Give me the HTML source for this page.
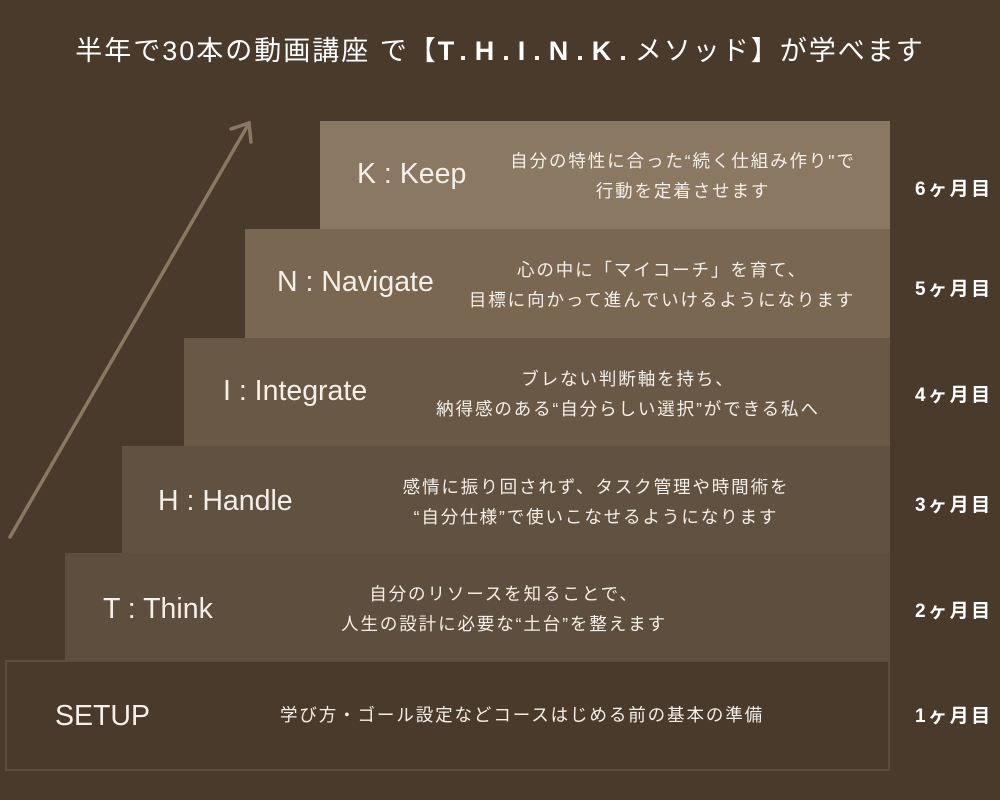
<!DOCTYPE html>
<html><head><meta charset="utf-8"><style>
body{margin:0;width:1000px;height:800px;background:#4a3a2c;position:relative;overflow:hidden;font-family:"Liberation Sans","Noto Sans CJK JP",sans-serif;color:#fff}
.b{position:absolute;right:110px;box-sizing:border-box}
.l{position:absolute;font-size:28.5px;color:#f4efe8;white-space:nowrap}
.d{position:absolute;font-size:17.5px;letter-spacing:1.9px;line-height:30px;text-align:center;color:#f4efe8;white-space:nowrap;transform:translateX(-50%)}
.m{position:absolute;left:915px;font-size:19px;font-weight:bold;letter-spacing:2.5px;white-space:nowrap}
.t{position:absolute;top:29px;left:0;width:1000px;text-align:center;font-size:27px;white-space:nowrap;letter-spacing:2px}
.t b{font-weight:bold;letter-spacing:8px}
</style></head><body>
<div class="t">半年で30本の動画講座 で【<b>T.H.I.N.K.</b>メソッド】が学べます</div>
<div class="b" style="left:320px;top:121px;height:109px;background:#8a7863"></div>
<div class="b" style="left:245px;top:229px;height:110px;background:#7a6752"></div>
<div class="b" style="left:184px;top:338px;height:109px;background:#6a5846"></div>
<div class="b" style="left:122px;top:446px;height:108px;background:#615140"></div>
<div class="b" style="left:65px;top:553px;height:108px;background:#5d4e3d"></div>
<div class="b" style="left:5px;top:660px;height:111px;background:#4a3a2c;border:2px solid #5c4c3c"></div>
<svg width="1000" height="800" style="position:absolute;left:0;top:0">
<g stroke="#8a7863" stroke-width="3.5" fill="none" stroke-linecap="round">
<line x1="10" y1="537" x2="248" y2="125"/>
<polyline points="231,129 249,123 251,142"/>
</g></svg>
<div class="l" style="left:357px;top:158px">K : Keep</div>
<div class="l" style="left:277px;top:266px">N : Navigate</div>
<div class="l" style="left:223px;top:375px">I : Integrate</div>
<div class="l" style="left:158px;top:485px">H : Handle</div>
<div class="l" style="left:103px;top:593px">T : Think</div>
<div class="l" style="left:55px;top:700px">SETUP</div>
<div class="d" style="left:683px;top:146px">自分の特性に合った“続く仕組み作り"で<br>行動を定着させます</div>
<div class="d" style="left:662px;top:255px">心の中に「マイコーチ」を育て、<br>目標に向かって進んでいけるようになります</div>
<div class="d" style="left:628px;top:364px">ブレない判断軸を持ち、<br>納得感のある“自分らしい選択”ができる私へ</div>
<div class="d" style="left:596px;top:472px">感情に振り回されず、タスク管理や時間術を<br>“自分仕様”で使いこなせるようになります</div>
<div class="d" style="left:504px;top:579px">自分のリソースを知ることで、<br>人生の設計に必要な“土台”を整えます</div>
<div class="d" style="left:522px;top:700px">学び方・ゴール設定などコースはじめる前の基本の準備</div>
<div class="m" style="top:174px">6ヶ月目</div>
<div class="m" style="top:274px">5ヶ月目</div>
<div class="m" style="top:380px">4ヶ月目</div>
<div class="m" style="top:490px">3ヶ月目</div>
<div class="m" style="top:596px">2ヶ月目</div>
<div class="m" style="top:701px">1ヶ月目</div>
</body></html>
